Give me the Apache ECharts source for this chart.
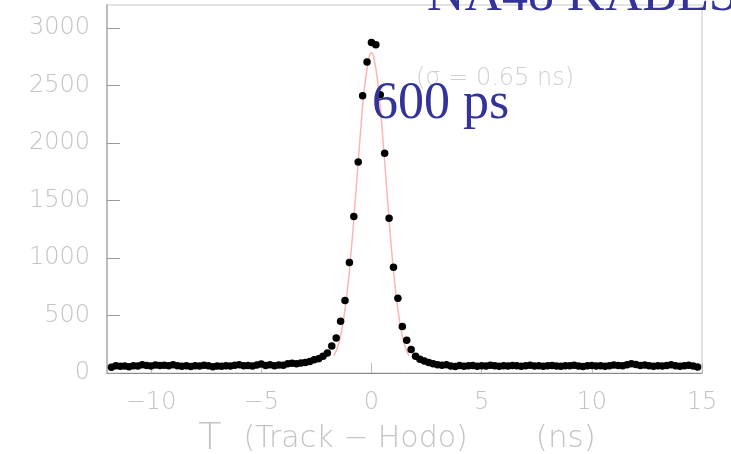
<!DOCTYPE html>
<html>
<head>
<meta charset="utf-8">
<script src="https://cdn.jsdelivr.net/npm/echarts@6/dist/echarts.min.js"></script>
<style>
    html, body { margin: 0; padding: 0; background: #fff; }
    #chart { width: 731px; height: 454px; }
</style>
</head>
<body>
<div id="chart"></div>
<script>
// histogram bins: first bin centre and width (ns)
let binStart = -11.8;
let binWidth = 0.2;
// counts per bin
let counts = [
    50, 62, 58, 60, 55, 63, 60, 72, 65, 60,
    70, 66, 68, 62, 72, 64, 58, 62, 57, 64,
    60, 68, 62, 55, 60, 58, 64, 60, 68, 72,
    63, 66, 60, 70, 78, 66, 72, 64, 70, 68,
    80, 84, 80, 88, 92, 100, 115, 125, 145, 175,
    235, 305, 450, 630, 960, 1360, 1835, 2410, 2705, 2875,
    2855, 2420, 1910, 1345, 920, 650, 405, 285, 205, 145,
    120, 105, 92, 80, 72, 68, 72, 60, 56, 65,
    58, 62, 66, 58, 64, 60, 68, 62, 58, 64,
    60, 66, 62, 58, 62, 68, 60, 64, 58, 62,
    66, 60, 58, 64, 62, 68, 60, 56, 62, 66,
    60, 64, 58, 62, 70, 66, 64, 72, 80, 74,
    66, 70, 62, 58, 64, 60, 66, 72, 64, 58,
    62, 68, 60, 52
];
// gaussian fit curve
let fitX = [-1.7, -1.5, -1.3, -1.1, -0.9, -0.7, -0.5, -0.3, -0.1, 0.0, 0.1, 0.3, 0.5, 0.7, 0.9, 1.1, 1.3, 1.5, 1.7];
let fitY = [150, 245, 425, 705, 1100, 1585, 2085, 2510, 2750, 2785, 2750, 2510, 2085, 1585, 1100, 705, 425, 245, 150];

let xTicks = [-10, -5, 0, 5, 10, 15];
let yTicks = [0, 500, 1000, 1500, 2000, 2500, 3000];

let pointData = [];
for (let i = 0; i < counts.length; i++) {
    pointData.push([+(binStart + i * binWidth).toFixed(2), counts[i]]);
}
let fitData = [];
for (let i = 0; i < fitX.length; i++) {
    fitData.push([fitX[i], fitY[i]]);
}

let labelGrey = '#c4c4c4';
let labelFont = {
    color: labelGrey,
    fontFamily: 'DejaVu Sans',
    fontWeight: 200,
    fontSize: 24
};

let chart = echarts.init(document.getElementById('chart'));
let option = {
    animation: false,
    backgroundColor: '#fff',
    grid: {
        left: 107,
        right: 29,
        top: 5,
        bottom: 81,
        outerBoundsMode: 'none',
        containLabel: false,
        show: true,
        borderColor: '#c8c8c8',
        borderWidth: 1
    },
    xAxis: {
        type: 'value',
        min: -12,
        max: 15,
        splitLine: { show: false },
        axisLine: { show: true, onZero: false, lineStyle: { color: '#8a8a8a', width: 1 } },
        axisTick: { show: true, inside: true, length: 10, customValues: xTicks, lineStyle: { color: '#bbb' } },
        axisLabel: Object.assign({
            margin: 18,
            customValues: xTicks,
            formatter: function (v) {
                return v < 0 ? '\u2212' + Math.abs(v) : String(v);
            }
        }, labelFont),
        name: '{t|T}{g1|}{a|(Track \u2212 Hodo)}{g2|}{b|(ns)}{g3|}',
        nameLocation: 'middle',
        nameGap: 46,
        nameTextStyle: {
            rich: {
                t: { fontFamily: 'DejaVu Sans', fontWeight: 200, fontSize: 38, color: labelGrey },
                g1: { width: 22 },
                a: { fontFamily: 'DejaVu Sans', fontWeight: 200, fontSize: 30, color: labelGrey },
                g2: { width: 68 },
                b: { fontFamily: 'DejaVu Sans', fontWeight: 200, fontSize: 31, color: labelGrey },
                g3: { width: 15 }
            }
        }
    },
    yAxis: {
        type: 'value',
        min: 0,
        max: 3200,
        splitLine: { show: false },
        axisLine: { show: true, onZero: false, lineStyle: { color: '#bdbdbd', width: 2 } },
        axisTick: { show: true, inside: true, length: 13, customValues: yTicks, lineStyle: { color: '#999' } },
        axisLabel: Object.assign({
            margin: 17,
            customValues: yTicks,
            formatter: function (v) {
                return String(v);
            }
        }, labelFont)
    },
    series: [
        {
            name: 'fit',
            type: 'line',
            data: fitData,
            smooth: 0.4,
            showSymbol: false,
            lineStyle: { color: '#ffb4b4', width: 1.5 },
            z: 2
        },
        {
            name: 'data',
            type: 'scatter',
            data: pointData,
            symbol: 'circle',
            symbolSize: 7.5,
            itemStyle: { color: '#000', opacity: 1 },
            z: 3
        }
    ],
    graphic: [
        {
            type: 'text',
            left: 427,
            top: -30,
            style: { text: 'NA48 KABES', fill: '#333399', font: '52px "Liberation Serif"' },
            z: 10
        },
        {
            type: 'text',
            left: 416,
            top: 67,
            style: { text: '(\u03c3 = 0.65 ns)', fill: '#d0d0d0', font: '200 24px "DejaVu Sans"' },
            z: 10
        },
        {
            type: 'text',
            left: 372,
            top: 78,
            style: { text: '600 ps', fill: '#333399', font: '52px "Liberation Serif"' },
            z: 11
        }
    ]
};
chart.setOption(option);
</script>
</body>
</html>
